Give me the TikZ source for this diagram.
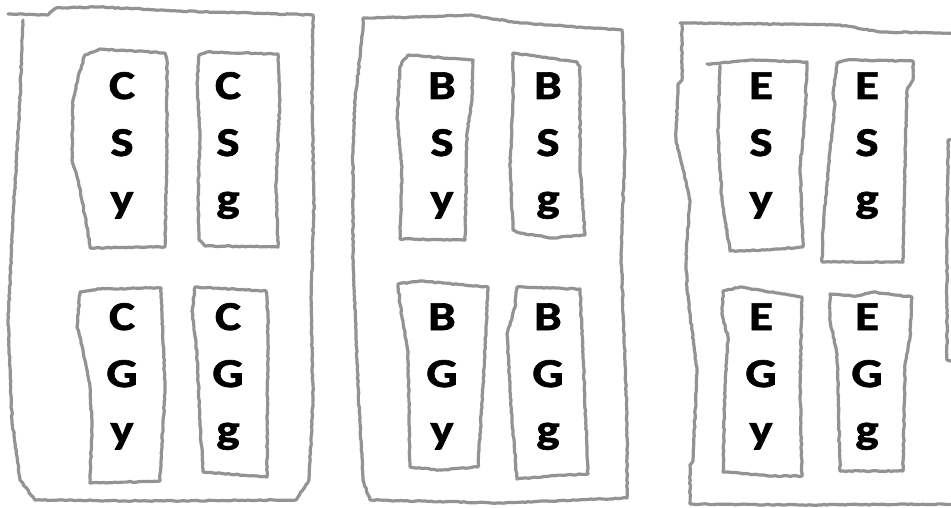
\documentclass[tikz,border=0pt]{standalone}
\usepackage{fontspec}
\setmainfont{Carlito}[FakeStretch=1.2,FakeBold=1.6]
\usetikzlibrary{decorations.pathmorphing}
\tikzset{
  sketch/.style={draw=gray!85, line width=3.2pt, line join=round, line cap=round,
    decorate, decoration={random steps, segment length=3pt, amplitude=0.5pt}},
  letter/.style={anchor=base, font=\fontsize{41}{48}\selectfont\bfseries, inner sep=0pt},
}
\newcommand\lettercol[6]{%
  \node[letter] (#1-1) at (#2,#3) {#4};
  \node[letter] (#1-2) at (#2,#3+57) {#5};
  \node[letter] (#1-3) at (#2,#3+113) {#6};
}
\begin{document}
\begin{tikzpicture}[x=1pt,y=-1pt]
\pgfmathsetseed{7}
\useasboundingbox (0,0) rectangle (951,508);
% ---------- outer boxes ----------
\draw[sketch] (8,14) -- (48,15) -- (56,8) -- (100,7) -- (180,11) -- (313,15) -- (312,100) -- (314,200)
  -- (311,300) -- (313,400) -- (309,480) -- (296,500) -- (150,501) -- (35,500) -- (20,480)
  -- (12,420) -- (8,320) -- (14,200) -- (20,100) -- (23,20);
\draw[sketch] (363,18) -- (420,17) -- (470,15) -- (520,23) -- (622,30) -- (625,150) -- (621,254)
  -- (627,414) -- (627,498) -- (500,503) -- (370,500) -- (363,480) -- (358,387) -- (353,254)
  -- (353,150) -- (355,100) -- (363,30) -- cycle;
\draw[sketch] (680,23) -- (840,25) -- (880,32) -- (955,33);
\draw[sketch] (682,23) -- (682,80) -- (678,84) -- (676,140) -- (690,200) -- (686,254) -- (687,290)
  -- (697,370) -- (693,461) -- (690,465) -- (690,504) -- (800,505) -- (955,504);
\draw[sketch] (955,140) -- (948,140) -- (947,250) -- (947,360) -- (955,362);
% ---------- inner boxes, panel 1 ----------
\draw[sketch] (85,55) -- (100,49) -- (165,53) -- (167,60) -- (167,150) -- (165,247) -- (90,248)
  -- (88,232) -- (78,180) -- (72,160) -- (73,100) -- (78,77) -- cycle;
\draw[sketch] (199,55) -- (207,52) -- (278,54) -- (280,100) -- (276,183) -- (278,247) -- (205,246)
  -- (199,240) -- (198,200) -- (200,133) -- (197,83) -- cycle;
\draw[sketch] (80,292) -- (100,289) -- (161,288) -- (165,387) -- (160,481) -- (90,483) -- (92,427)
  -- (90,387) -- (80,337) -- (77,327) -- cycle;
\draw[sketch] (195,287) -- (266,291) -- (268,314) -- (267,477) -- (203,472) -- (200,421)
  -- (197,354) -- (192,311) -- cycle;
% ---------- inner boxes, panel 2 ----------
\draw[sketch] (402,62) -- (408,55) -- (473,60) -- (472,100) -- (467,133) -- (465,240) -- (400,239)
  -- (402,167) -- (397,117) -- (400,67) -- cycle;
\draw[sketch] (513,53) -- (577,62) -- (580,67) -- (580,167) -- (585,235) -- (553,238) -- (520,233)
  -- (513,230) -- (510,167) -- (513,100) -- cycle;
\draw[sketch] (398,284) -- (420,281) -- (488,287) -- (486,330) -- (483,387) -- (478,467) -- (440,470)
  -- (410,467) -- (408,354) -- (400,304) -- cycle;
\draw[sketch] (517,287) -- (580,289) -- (583,354) -- (588,474) -- (550,476) -- (517,479) -- (512,421)
  -- (507,334) -- (515,307) -- cycle;
% ---------- inner boxes, panel 3 ----------
\draw[sketch] (707,64) -- (753,60) -- (807,62) -- (805,117) -- (800,167) -- (803,247) -- (765,250)
  -- (730,251) -- (722,200) -- (718,133) -- (720,66);
\draw[sketch] (837,63) -- (847,60) -- (913,61) -- (913,80) -- (907,90) -- (905,167) -- (903,262)
  -- (822,262) -- (823,230) -- (830,150) -- (835,105) -- (833,93) -- cycle;
\draw[sketch] (723,291) -- (740,287) -- (802,297) -- (800,387) -- (802,476) -- (773,476) -- (723,472)
  -- (725,387) -- (728,337) -- (722,314) -- cycle;
\draw[sketch] (830,294) -- (857,296) -- (873,292) -- (912,297) -- (910,337) -- (905,364) -- (903,471)
  -- (840,471) -- (838,387) -- (837,354) -- (830,321) -- cycle;
% ---------- letters ----------
\lettercol{csy}{122}{99}{C}{S}{y}
\lettercol{csg}{228}{99}{C}{S}{g}
\lettercol{cgy}{122}{330}{C}{G}{y}
\lettercol{cgg}{228}{330}{C}{G}{g}
\lettercol{bsy}{442}{99}{B}{S}{y}
\lettercol{bsg}{548}{99}{B}{S}{g}
\lettercol{bgy}{442}{330}{B}{G}{y}
\lettercol{bgg}{548}{330}{B}{G}{g}
\lettercol{esy}{761}{99}{E}{S}{y}
\lettercol{esg}{867}{99}{E}{S}{g}
\lettercol{egy}{761}{330}{E}{G}{y}
\lettercol{egg}{867}{330}{E}{G}{g}
\end{tikzpicture}
\end{document}
